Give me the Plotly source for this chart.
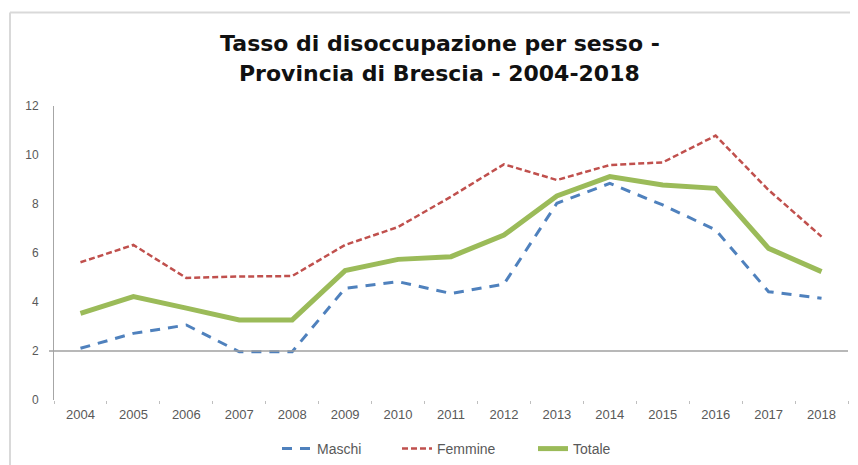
import plotly.graph_objects as go

anni = ["2004", "2005", "2006", "2007", "2008", "2009", "2010", "2011",
        "2012", "2013", "2014", "2015", "2016", "2017", "2018"]
maschi = [2.11, 2.72, 3.06, 1.97, 1.97, 4.56, 4.83, 4.35, 4.73, 8.03, 8.84, 7.96, 6.94, 4.42, 4.15]
femmine = [5.62, 6.33, 4.98, 5.04, 5.06, 6.33, 7.06, 8.3, 9.62, 8.98, 9.59, 9.7, 10.79, 8.57, 6.67]
totale = [3.54, 4.22, 3.75, 3.27, 3.27, 5.28, 5.74, 5.85, 6.73, 8.33, 9.12, 8.78, 8.64, 6.19, 5.24]
y_ticks = [0, 2, 4, 6, 8, 10, 12]
titolo_1 = "Tasso di disoccupazione per sesso -"
titolo_2 = "Provincia di Brescia - 2004-2018"

OFF = 8  # page body offset
W, H = 858 - OFF, 465 - OFF
L, R, T, B = 54 - OFF, 10, 106 - OFF, 65
pw, ph = W - L - R, H - T - B

def px_x(p):
    return (p - OFF - L) / pw

def px_y(p):
    return (H - B - (p - OFF)) / ph

fig = go.Figure()
fig.add_trace(go.Scatter(x=anni, y=maschi, mode="lines", name="Maschi", legend="legend",
                         line=dict(color="#4F81BD", width=3, dash="10px,8px")))
fig.add_trace(go.Scatter(x=anni, y=femmine, mode="lines", name="Femmine", legend="legend2",
                         line=dict(color="#C0504D", width=2.5, dash="6px,3px")))
fig.add_trace(go.Scatter(x=anni, y=totale, mode="lines", name="Totale", legend="legend3",
                         line=dict(color="#9BBB59", width=5)))

shapes = [
    dict(type="line", xref="paper", yref="y", x0=px_x(49), x1=1, y0=2, y1=2,
         line=dict(color="#A0A0A0", width=1.5)),
    dict(type="line", xref="paper", yref="paper", x0=px_x(10), x1=px_x(870),
         y0=px_y(12.5), y1=px_y(12.5), line=dict(color="#D9D9D9", width=2)),
    dict(type="line", xref="paper", yref="paper", x0=px_x(10), x1=px_x(10),
         y0=px_y(12.5), y1=px_y(475), line=dict(color="#D9D9D9", width=2)),
]

title_font = dict(family="DejaVu Sans", size=22, color="#111111", weight="bold")
annotations = [
    dict(text=titolo_2, xref="paper", yref="paper", x=px_x(439), y=px_y(73),
         xanchor="center", yanchor="middle", showarrow=False, font=title_font),
]

leg_common = dict(orientation="h", xanchor="left", yanchor="middle", y=px_y(449),
                  font=dict(size=14, color="#595959"), bgcolor="rgba(0,0,0,0)")

fig.update_layout(
    width=W, height=H,
    margin=dict(l=L, r=R, t=T, b=B, autoexpand=False),
    paper_bgcolor="white", plot_bgcolor="white",
    title=dict(text=titolo_1,
               x=(440 - OFF) / W, xref="container", xanchor="center",
               y=1 - (43 - OFF) / H, yref="container", yanchor="middle",
               font=title_font),
    annotations=annotations,
    font=dict(family="Liberation Sans", color="#595959"),
    showlegend=True,
    legend=dict(x=px_x(317 - 40), **leg_common),
    legend2=dict(x=px_x(437 - 40), **leg_common),
    legend3=dict(x=px_x(573 - 40), **leg_common),
    shapes=shapes,
    xaxis=dict(type="category", showgrid=False, showline=False, zeroline=False,
               ticks="outside", ticklen=3, tickcolor="#BFBFBF", tickson="boundaries",
               tickfont=dict(size=13, color="#595959"), ticklabelstandoff=5,
               range=[-0.5, 14.5], automargin=False),
    yaxis=dict(range=[0, 12], tickvals=y_ticks, showgrid=False, zeroline=False,
               showline=True, linecolor="#A6A6A6", linewidth=1,
               tickfont=dict(size=12, color="#595959"), ticklabelstandoff=12,
               automargin=False),
)

fig.write_html("out.html")
